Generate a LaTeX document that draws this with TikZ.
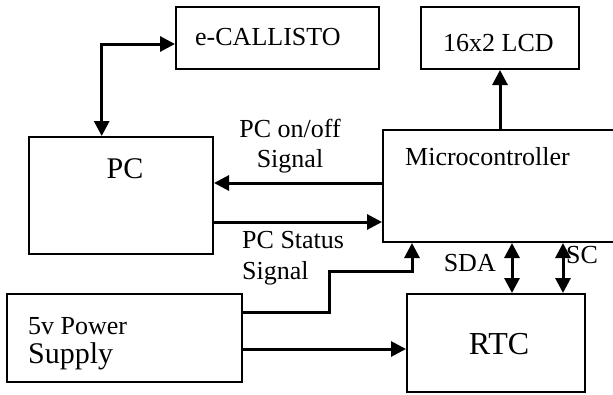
\documentclass[tikz,border=0pt]{standalone}
\usepackage{fontspec}
\setmainfont{Liberation Serif}
\usetikzlibrary{arrows.meta,calc}
\begin{document}
\begin{tikzpicture}[x=1pt,y=-1pt,
  box/.style={draw,line width=2pt,inner sep=0pt,rectangle},
  lbl/.style={inner sep=0pt,font=\fontsize{26}{30}\selectfont},
  arr/.style={line width=3pt,-{Triangle[length=15pt,width=15pt]}},
  dbl/.style={line width=3pt,{Triangle[length=15pt,width=15pt]}-{Triangle[length=15pt,width=15pt]}}]
\clip (0,0) rectangle (613,394);
\fill[white] (0,0) rectangle (613,394);
% boxes
\node[box,minimum width=203pt,minimum height=62pt] (ecal) at (277.5,38) {};
\node[box,minimum width=158pt,minimum height=62pt] (lcd) at (500,38) {};
\node[box,minimum width=233pt,minimum height=112pt] (mcu) at (499.5,186) {};
\node[box,minimum width=184pt,minimum height=117pt] (pc) at (121,195.5) {};
\node[box,minimum width=235pt,minimum height=88pt] (psu) at (124.5,338) {};
\node[box,minimum width=178pt,minimum height=98pt] (rtc) at (496,343) {};
% texts
\node[lbl,anchor=base west] (tecal) at (195,45) {e-CALLISTO};
\node[lbl,anchor=base west] (tlcd) at (443,51) {16x2 LCD};
\node[lbl,anchor=base west] (tmcu) at (405,165) {Microcontroller};
\node[lbl,anchor=base,font=\fontsize{30}{36}\selectfont] (tpc) at (125,178) {PC};
\node[lbl,anchor=base,font=\fontsize{32}{38}\selectfont] (trtc) at (499,354) {RTC};
\node[lbl,anchor=base,align=center] (ton) at (290,167) {PC on/off\\Signal};
\node[lbl,anchor=base west,align=left] (tst) at (242,279) {PC Status\\[1pt]Signal};
\node[lbl,anchor=base west,align=left] (tpsu) at (28,363) {5v Power\\[-1pt]{\fontsize{30}{36}\selectfont Supply}};
\node[lbl,anchor=base east] (tsda) at (496,271) {SDA};
\node[lbl,anchor=base west] (tsc) at (566,263) {SC};
% connectors
\draw[dbl] ($(ecal.west)+(0,6)$) -| ($(pc.north)+(-19.3,0)$);
\draw[arr] (lcd.south |- mcu.north) -- (lcd.south);
\draw[arr] ($(mcu.west)+(0,-3)$) coordinate (a) -- (a -| pc.east);
\draw[arr] ($(pc.east)+(0,26.5)$) coordinate (b) -- (b -| mcu.west);
\draw[arr] ($(psu.east)+(0,-26)$) -| ($(psu.east)+(86,-67)$) -| ($(mcu.south west)+(30,0)$);
\draw[arr] ($(psu.east)+(0,11)$) coordinate (c) -- (c -| rtc.west);
\draw[dbl] ($(rtc.north)+(16,0)$) coordinate (d) -- (d |- mcu.south);
\draw[dbl] ($(rtc.north)+(67,0)$) coordinate (e) -- (e |- mcu.south);
\end{tikzpicture}
\end{document}
